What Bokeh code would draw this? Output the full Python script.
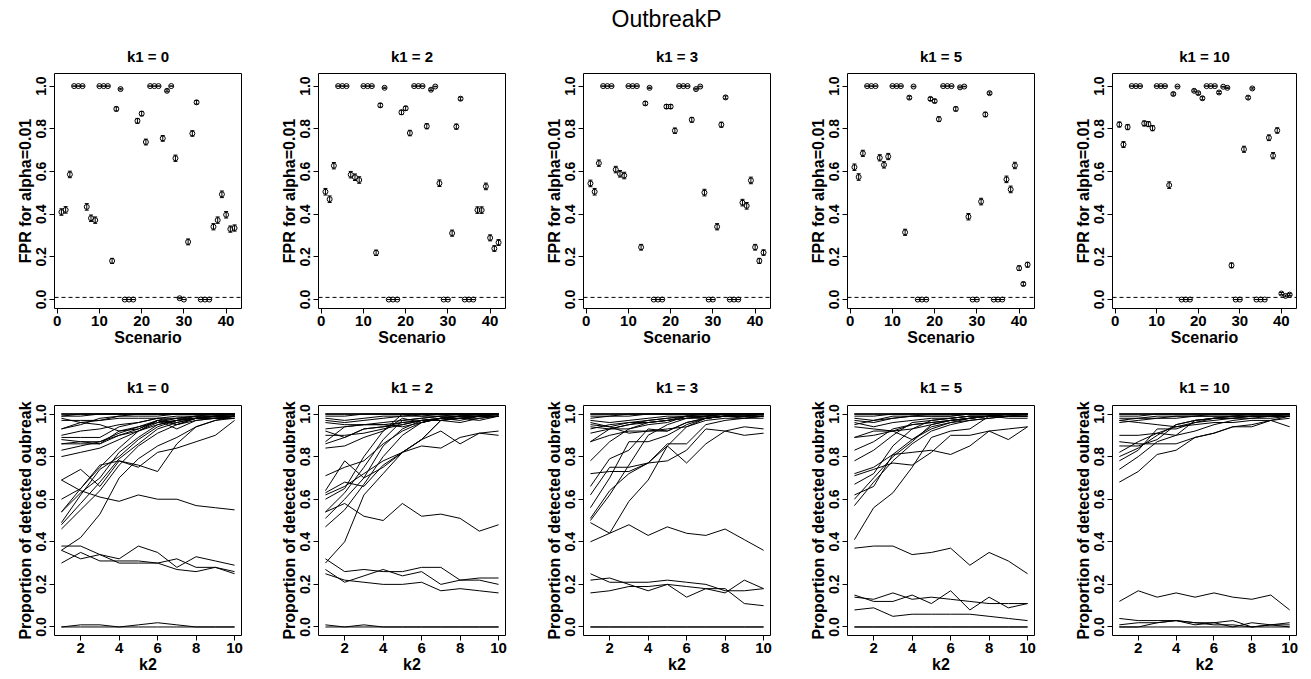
import math
from bokeh.plotting import figure
from bokeh.layouts import column, row
from bokeh.models import (ColumnDataSource, Whisker, TeeHead, Span, FixedTicker,
                          PrintfTickFormatter, Label)
from bokeh.embed import file_html
from bokeh.resources import INLINE

FONT = "Liberation Sans"

# ---------------- data ----------------
k1_values = [0, 2, 3, 5, 10]
scenarios = list(range(1, 43))
k2_values = list(range(1, 11))
alpha = 0.01
n_sim = 4000

fpr_k1_0 = [0.41, 0.42, 0.586, 1, 1, 1, 0.434, 0.381, 0.372, 1, 1, 1, 0.181, 0.893, 0.986,
            0, 0, 0, 0.837, 0.871, 0.738, 1, 1, 1, 0.755, 0.978, 1.0, 0.662, 0.006, 0.0,
            0.27, 0.778, 0.924, 0, 0, 0, 0.341, 0.372, 0.493, 0.397, 0.330, 0.335]
fpr_k1_2 = [0.505, 0.47, 0.627, 1, 1, 1, 0.585, 0.573, 0.56, 1, 1, 1, 0.219, 0.91, 0.992,
            0, 0, 0, 0.877, 0.896, 0.78, 1, 1, 1, 0.812, 0.983, 0.998, 0.545, 0.0, 0.0,
            0.311, 0.81, 0.941, 0, 0, 0, 0.419, 0.419, 0.53, 0.289, 0.239, 0.267]
fpr_k1_3 = [0.544, 0.505, 0.639, 1, 1, 1, 0.609, 0.589, 0.581, 1, 1, 1, 0.245, 0.919, 0.992,
            0, 0, 0, 0.904, 0.904, 0.791, 1, 1, 1, 0.842, 0.986, 0.998, 0.501, 0, 0,
            0.341, 0.819, 0.947, 0, 0, 0, 0.454, 0.439, 0.558, 0.245, 0.181, 0.22]
fpr_k1_5 = [0.62, 0.574, 0.685, 1, 1, 1, 0.664, 0.631, 0.67, 1, 1, 1, 0.315, 0.946, 0.998,
            0, 0, 0, 0.94, 0.93, 0.845, 1, 1, 1, 0.893, 0.994, 0.998, 0.388, 0, 0,
            0.459, 0.867, 0.967, 0, 0, 0, 0.563, 0.516, 0.628, 0.147, 0.073, 0.163]
fpr_k1_10 = [0.82, 0.726, 0.808, 1, 1, 1, 0.825, 0.822, 0.803, 1, 1, 1, 0.536, 0.963, 0.998,
             0, 0, 0, 0.978, 0.967, 0.943, 1, 1, 1, 0.97, 0.997, 0.992, 0.16, 0, 0,
             0.704, 0.946, 0.989, 0, 0, 0, 0.758, 0.674, 0.792, 0.028, 0.017, 0.023]

det_k1_0 = [
    [1, 1, 1, 1, 1, 1, 1, 1, 1, 1],
    [1, 1, 1, 1, 1, 1, 1, 1, 1, 1],
    [1, 1, 1, 1, 1, 1, 1, 1, 1, 1],
    [0.99, 0.99, 1, 1, 1, 1, 1, 1, 1, 1],
    [0.99, 1, 1, 1, 1, 1, 1, 1, 1, 1],
    [0.97, 0.97, 0.97, 0.98, 0.98, 0.98, 0.98, 0.98, 0.98, 0.98],
    [0.98, 0.96, 0.95, 0.92, 0.93, 0.97, 0.95, 0.98, 0.98, 0.99],
    [0.93, 0.95, 0.98, 0.99, 1, 1, 1, 1, 1, 1],
    [0.93, 0.96, 0.97, 0.99, 0.99, 0.99, 1, 1, 1, 1],
    [0.90, 0.92, 0.93, 0.95, 0.96, 0.98, 0.99, 0.99, 1, 1],
    [0.89, 0.89, 0.89, 0.94, 0.96, 0.98, 0.95, 0.98, 0.99, 0.99],
    [0.88, 0.87, 0.87, 0.91, 0.94, 0.97, 0.93, 0.97, 0.98, 0.98],
    [0.86, 0.87, 0.86, 0.90, 0.93, 0.97, 0.96, 0.98, 0.98, 0.99],
    [0.86, 0.86, 0.86, 0.92, 0.94, 0.96, 0.97, 0.98, 0.98, 0.99],
    [0.83, 0.85, 0.87, 0.90, 0.92, 0.97, 0.98, 0.99, 0.99, 0.99],
    [0.80, 0.82, 0.84, 0.88, 0.92, 0.95, 0.97, 0.98, 0.99, 0.99],
    [0.69, 0.74, 0.66, 0.78, 0.76, 0.73, 0.86, 0.94, 0.97, 0.98],
    [0.69, 0.64, 0.61, 0.59, 0.62, 0.60, 0.60, 0.57, 0.56, 0.55],
    [0.60, 0.65, 0.76, 0.78, 0.75, 0.82, 0.84, 0.87, 0.90, 0.97],
    [0.54, 0.65, 0.75, 0.84, 0.92, 0.96, 0.98, 0.99, 0.99, 1.0],
    [0.54, 0.63, 0.70, 0.82, 0.89, 0.95, 0.97, 0.98, 0.99, 0.99],
    [0.49, 0.62, 0.74, 0.80, 0.88, 0.94, 0.97, 0.99, 0.99, 1.0],
    [0.48, 0.58, 0.68, 0.79, 0.86, 0.93, 0.96, 0.98, 0.99, 0.99],
    [0.46, 0.55, 0.64, 0.76, 0.85, 0.91, 0.95, 0.97, 0.98, 0.99],
    [0.36, 0.42, 0.53, 0.70, 0.79, 0.85, 0.89, 0.94, 0.97, 0.99],
    [0.38, 0.38, 0.34, 0.32, 0.38, 0.35, 0.28, 0.33, 0.31, 0.29],
    [0.36, 0.32, 0.34, 0.30, 0.30, 0.30, 0.32, 0.28, 0.28, 0.25],
    [0.30, 0.35, 0.31, 0.31, 0.31, 0.30, 0.27, 0.26, 0.28, 0.26],
    [0, 0.01, 0.01, 0, 0.01, 0.02, 0.01, 0, 0, 0],
    [0, 0, 0, 0, 0, 0, 0, 0, 0, 0],
]
det_k1_2 = [
    [1, 1, 1, 1, 1, 1, 1, 1, 1, 1],
    [1, 1, 1, 1, 1, 1, 1, 1, 1, 1],
    [1, 1, 1, 1, 1, 1, 1, 1, 1, 1],
    [0.99, 0.99, 1, 1, 1, 1, 1, 1, 1, 1],
    [0.98, 0.97, 0.98, 0.99, 0.99, 1, 1, 1, 1, 1],
    [0.97, 0.96, 0.97, 0.98, 0.99, 0.99, 1, 1, 1, 1],
    [0.96, 0.95, 0.95, 0.96, 0.97, 0.98, 0.99, 0.99, 1, 1],
    [0.93, 0.94, 0.95, 0.95, 0.96, 0.97, 0.98, 0.99, 0.99, 1],
    [0.92, 0.89, 0.93, 0.94, 0.95, 0.97, 0.97, 0.98, 0.98, 0.99],
    [0.90, 0.90, 0.91, 0.93, 0.95, 0.97, 0.98, 0.97, 0.99, 0.99],
    [0.87, 0.94, 0.95, 0.95, 0.94, 0.96, 0.98, 0.98, 0.97, 0.99],
    [0.86, 0.89, 0.93, 0.94, 0.96, 0.97, 0.97, 0.96, 0.98, 0.99],
    [0.84, 0.85, 0.89, 0.92, 0.98, 0.96, 0.98, 0.99, 0.99, 1],
    [0.71, 0.75, 0.78, 0.86, 0.92, 0.96, 0.98, 0.98, 0.99, 0.99],
    [0.64, 0.78, 0.70, 0.75, 0.82, 0.88, 0.97, 0.98, 0.99, 0.99],
    [0.63, 0.68, 0.66, 0.76, 0.82, 0.88, 0.92, 0.86, 0.91, 0.90],
    [0.62, 0.66, 0.72, 0.78, 0.82, 0.85, 0.84, 0.89, 0.91, 0.92],
    [0.60, 0.65, 0.80, 0.92, 1.0, 0.99, 0.99, 1, 1, 1],
    [0.54, 0.63, 0.75, 0.88, 0.97, 0.98, 0.99, 0.99, 1, 1],
    [0.51, 0.60, 0.70, 0.85, 0.93, 0.97, 0.98, 0.99, 0.99, 1],
    [0.47, 0.55, 0.67, 0.80, 0.90, 0.96, 0.98, 0.99, 0.99, 1],
    [0.30, 0.40, 0.62, 0.72, 0.82, 0.88, 0.97, 0.98, 0.99, 0.99],
    [0.54, 0.58, 0.52, 0.50, 0.58, 0.52, 0.53, 0.51, 0.45, 0.48],
    [0.32, 0.26, 0.27, 0.26, 0.26, 0.28, 0.28, 0.22, 0.22, 0.20],
    [0.27, 0.21, 0.24, 0.27, 0.24, 0.26, 0.20, 0.22, 0.23, 0.23],
    [0.25, 0.22, 0.21, 0.20, 0.20, 0.21, 0.17, 0.18, 0.17, 0.16],
    [0.01, 0, 0.01, 0, 0, 0, 0, 0, 0, 0],
    [0, 0, 0, 0, 0, 0, 0, 0, 0, 0],
]
det_k1_3 = [
    [1, 1, 1, 1, 1, 1, 1, 1, 1, 1],
    [1, 1, 1, 1, 1, 1, 1, 1, 1, 1],
    [1, 1, 1, 1, 1, 1, 1, 1, 1, 1],
    [0.99, 0.99, 1, 1, 1, 1, 1, 1, 1, 1],
    [0.98, 0.99, 0.99, 1, 1, 1, 1, 1, 1, 1],
    [0.97, 0.96, 0.97, 0.98, 0.99, 0.99, 1, 1, 1, 1],
    [0.96, 0.94, 0.91, 0.92, 0.92, 0.96, 0.98, 0.99, 0.99, 0.99],
    [0.95, 0.94, 0.96, 0.97, 0.98, 0.99, 0.99, 1, 1, 1],
    [0.94, 0.93, 0.95, 0.96, 0.97, 0.98, 0.99, 0.99, 0.99, 1],
    [0.93, 0.95, 0.96, 0.96, 0.97, 0.98, 0.98, 0.99, 0.98, 0.99],
    [0.91, 0.93, 0.93, 0.95, 0.96, 0.99, 0.98, 0.99, 0.99, 0.99],
    [0.87, 0.93, 0.95, 0.97, 0.98, 0.99, 0.99, 1, 1, 1],
    [0.87, 0.90, 0.92, 0.92, 0.93, 0.94, 0.97, 0.98, 0.98, 0.98],
    [0.78, 0.87, 0.93, 0.96, 0.97, 0.99, 0.99, 1, 1, 1],
    [0.72, 0.73, 0.73, 0.77, 0.78, 0.83, 0.93, 0.92, 0.90, 0.91],
    [0.66, 0.79, 0.83, 0.93, 0.92, 0.96, 0.98, 0.99, 0.99, 0.99],
    [0.62, 0.75, 0.75, 0.77, 0.85, 0.77, 0.86, 0.92, 0.94, 0.93],
    [0.56, 0.70, 0.87, 0.87, 0.90, 0.95, 0.98, 0.99, 0.99, 1],
    [0.51, 0.64, 0.72, 0.77, 0.86, 0.86, 0.95, 0.97, 0.98, 0.99],
    [0.50, 0.62, 0.76, 0.90, 0.95, 0.98, 0.99, 0.99, 1, 1],
    [0.49, 0.44, 0.59, 0.69, 0.85, 0.94, 0.98, 0.99, 0.99, 1],
    [0.40, 0.44, 0.48, 0.43, 0.47, 0.44, 0.43, 0.46, 0.41, 0.36],
    [0.25, 0.21, 0.21, 0.21, 0.22, 0.21, 0.20, 0.17, 0.17, 0.18],
    [0.22, 0.23, 0.20, 0.17, 0.20, 0.14, 0.18, 0.16, 0.22, 0.18],
    [0.16, 0.17, 0.19, 0.19, 0.20, 0.19, 0.18, 0.18, 0.11, 0.10],
    [0, 0, 0, 0, 0, 0, 0, 0, 0, 0],
    [0, 0, 0, 0, 0, 0, 0, 0, 0, 0],
]
det_k1_5 = [
    [1, 1, 1, 1, 1, 1, 1, 1, 1, 1],
    [1, 1, 1, 1, 1, 1, 1, 1, 1, 1],
    [1, 1, 1, 1, 1, 1, 1, 1, 1, 1],
    [0.99, 0.99, 1, 1, 1, 1, 1, 1, 1, 1],
    [0.98, 0.97, 0.99, 0.99, 1, 1, 1, 1, 1, 1],
    [0.97, 0.96, 0.98, 0.99, 0.99, 0.99, 1, 1, 1, 1],
    [0.96, 0.94, 0.96, 0.97, 0.98, 0.98, 0.99, 0.99, 1, 1],
    [0.95, 0.97, 0.98, 0.99, 0.99, 0.99, 1, 1, 1, 1],
    [0.94, 0.93, 0.92, 0.95, 0.96, 0.97, 0.98, 0.99, 0.98, 0.98],
    [0.89, 0.90, 0.92, 0.88, 0.94, 0.96, 0.97, 0.98, 0.99, 0.99],
    [0.89, 0.92, 0.92, 0.93, 0.95, 0.97, 0.98, 0.99, 0.99, 0.99],
    [0.83, 0.87, 0.93, 0.95, 0.96, 0.97, 0.98, 0.99, 1, 1],
    [0.78, 0.83, 0.90, 0.96, 0.97, 0.98, 0.99, 0.99, 1, 1],
    [0.72, 0.75, 0.81, 0.82, 0.83, 0.81, 0.85, 0.92, 0.88, 0.94],
    [0.71, 0.74, 0.77, 0.76, 0.82, 0.90, 0.90, 0.92, 0.93, 0.94],
    [0.67, 0.72, 0.85, 0.93, 0.97, 0.98, 0.99, 0.99, 1, 1],
    [0.62, 0.66, 0.81, 0.88, 0.93, 0.96, 0.98, 0.99, 0.99, 1],
    [0.60, 0.70, 0.80, 0.87, 0.95, 0.97, 0.98, 0.99, 1, 1],
    [0.57, 0.68, 0.78, 0.86, 0.92, 0.95, 0.97, 0.98, 0.99, 0.99],
    [0.41, 0.56, 0.63, 0.75, 0.89, 0.92, 0.93, 0.99, 0.99, 0.99],
    [0.37, 0.38, 0.38, 0.34, 0.35, 0.37, 0.29, 0.35, 0.31, 0.25],
    [0.15, 0.12, 0.12, 0.15, 0.11, 0.17, 0.08, 0.14, 0.09, 0.11],
    [0.14, 0.13, 0.16, 0.13, 0.14, 0.13, 0.12, 0.11, 0.11, 0.11],
    [0.08, 0.09, 0.05, 0.06, 0.06, 0.06, 0.06, 0.05, 0.04, 0.03],
    [0, 0, 0, 0, 0, 0, 0, 0, 0, 0],
    [0, 0, 0, 0, 0, 0, 0, 0, 0, 0],
]
det_k1_10 = [
    [1, 1, 1, 1, 1, 1, 1, 1, 1, 1],
    [1, 1, 1, 1, 1, 1, 1, 1, 1, 1],
    [1, 1, 1, 1, 1, 1, 1, 1, 1, 1],
    [0.99, 0.99, 1, 1, 1, 1, 1, 1, 1, 1],
    [0.98, 0.98, 0.99, 0.99, 0.99, 1, 1, 1, 1, 1],
    [0.97, 0.98, 0.98, 0.99, 0.99, 0.99, 0.99, 0.99, 0.99, 0.99],
    [0.97, 0.96, 0.95, 0.94, 0.95, 0.96, 0.96, 0.97, 0.97, 0.94],
    [0.96, 0.97, 0.98, 0.98, 0.99, 0.99, 0.99, 1, 1, 1],
    [0.90, 0.90, 0.91, 0.90, 0.92, 0.95, 0.97, 0.98, 0.98, 0.99],
    [0.87, 0.86, 0.86, 0.86, 0.89, 0.91, 0.94, 0.94, 0.97, 0.98],
    [0.85, 0.85, 0.88, 0.95, 0.97, 0.98, 0.98, 0.99, 0.99, 0.99],
    [0.82, 0.87, 0.91, 0.94, 0.96, 0.97, 0.98, 0.98, 0.99, 0.99],
    [0.80, 0.84, 0.90, 0.95, 0.97, 0.98, 0.99, 0.99, 0.99, 1],
    [0.78, 0.83, 0.93, 0.93, 0.96, 0.98, 0.98, 0.99, 0.99, 0.99],
    [0.74, 0.80, 0.87, 0.90, 0.97, 0.98, 0.99, 0.99, 0.99, 1],
    [0.68, 0.73, 0.81, 0.83, 0.89, 0.91, 0.94, 0.95, 0.97, 0.99],
    [0.12, 0.17, 0.14, 0.16, 0.14, 0.16, 0.14, 0.13, 0.15, 0.08],
    [0.04, 0.03, 0.03, 0.03, 0.02, 0.02, 0.03, 0.00, 0.01, 0.00],
    [0.01, 0.02, 0.02, 0.03, 0.01, 0.02, 0.00, 0.02, 0.01, 0.02],
    [0.00, 0.00, 0.02, 0.03, 0.02, 0.01, 0.01, 0.00, 0.01, 0.01],
    [0, 0, 0, 0, 0, 0, 0, 0, 0, 0],
]

fpr_all = [fpr_k1_0, fpr_k1_2, fpr_k1_3, fpr_k1_5, fpr_k1_10]
det_all = [det_k1_0, det_k1_2, det_k1_3, det_k1_5, det_k1_10]

x_ticks_top = [0, 10, 20, 30, 40]
x_ticks_bottom = [2, 4, 6, 8, 10]
y_ticks = [0.0, 0.2, 0.4, 0.6, 0.8, 1.0]

# ---------------- layout ----------------
fig_widths = [268, 265, 264, 265, 245]
left_borders = [54, 50, 50, 50, 50]
frame_widths = [187, 187, 187, 187, 184]


def style(p, xticks, xlabel, ylabel, standoff):
    p.xgrid.visible = False
    p.ygrid.visible = False
    p.outline_line_color = "black"
    p.outline_line_width = 1
    p.background_fill_color = "white"
    p.border_fill_color = "white"
    p.title.align = "center"
    p.title.text_font = FONT
    p.title.text_font_size = "15px"
    p.title.text_font_style = "bold"
    p.title.text_color = "black"
    p.title.standoff = standoff
    for ax in (p.xaxis[0], p.yaxis[0]):
        ax.axis_line_color = None
        ax.major_tick_out = 5
        ax.major_tick_in = 0
        ax.major_tick_line_color = "black"
        ax.minor_tick_line_color = None
        ax.major_label_text_font = FONT
        ax.major_label_text_font_size = "14px"
        ax.major_label_text_font_style = "bold"
        ax.major_label_text_color = "black"
        ax.major_label_standoff = 3
        ax.axis_label_text_font = FONT
        ax.axis_label_text_font_size = "16px"
        ax.axis_label_text_font_style = "bold"
        ax.axis_label_text_color = "black"
        ax.axis_label_standoff = 0
    p.xaxis.major_label_text_font_size = "15px"
    p.xaxis.major_label_standoff = 2
    p.xaxis.ticker = FixedTicker(ticks=xticks)
    p.yaxis.ticker = FixedTicker(ticks=y_ticks)
    p.yaxis.formatter = PrintfTickFormatter(format="%.1f")
    p.xaxis.formatter = PrintfTickFormatter(format="%d")
    p.yaxis.major_label_orientation = "vertical"
    p.xaxis.axis_label = xlabel
    p.yaxis.axis_label = ylabel


top_row = []
bottom_row = []
for i, k1 in enumerate(k1_values):
    w = fig_widths[i]
    lb = left_borders[i]
    rb = w - lb - frame_widths[i]

    # ---- top: FPR with confidence intervals ----
    vals = fpr_all[i]
    half = [1.96 * math.sqrt(v * (1 - v) / n_sim) for v in vals]
    src = ColumnDataSource(dict(x=scenarios, y=vals,
                                lo=[v - h for v, h in zip(vals, half)],
                                hi=[v + h for v, h in zip(vals, half)]))
    p = figure(width=w, height=319, x_range=(-0.64, 43.64), y_range=(-0.042, 1.059),
               output_backend="svg", toolbar_location=None, title=f"k1 = {k1}",
               min_border_left=lb, min_border_right=rb, min_border_top=43, min_border_bottom=41)
    style(p, x_ticks_top, "Scenario", "FPR for alpha=0.01", 17)
    p.add_layout(Span(location=alpha, dimension="width", line_color="black",
                      line_width=1, line_dash="4 3"))
    p.add_layout(Whisker(source=src, base="x", upper="hi", lower="lo", dimension="height",
                         line_color="black", line_width=1,
                         upper_head=TeeHead(size=4, line_color="black", line_width=1),
                         lower_head=TeeHead(size=4, line_color="black", line_width=1)))
    p.scatter("x", "y", source=src, marker="circle", size=5, fill_color=None,
              line_color="black", line_width=1)
    top_row.append(p)

    # ---- bottom: detection proportion vs k2 ----
    lines = det_all[i]
    q = figure(width=w, height=327, x_range=(0.64, 10.36), y_range=(-0.04, 1.04),
               output_backend="svg", toolbar_location=None, title=f"k1 = {k1}",
               min_border_left=lb, min_border_right=rb, min_border_top=56, min_border_bottom=41)
    style(q, x_ticks_bottom, "k2", "Proportion of detected oubreak", 20)
    q.multi_line(xs=[k2_values] * len(lines), ys=lines, line_color="black", line_width=1)
    bottom_row.append(q)

# ---- main title ----
t = figure(width=1307, height=30, x_range=(0, 1307), y_range=(0, 30), x_axis_type=None,
           y_axis_type=None, toolbar_location=None, output_backend="svg", title=None,
           min_border=0, outline_line_color=None)
t.add_layout(Label(x=666, y=12, text="OutbreakP", text_align="center", text_baseline="middle",
                   text_font=FONT, text_font_size="23px", text_color="black"))

layout = column(t, row(*top_row, spacing=0), row(*bottom_row, spacing=0), spacing=0)

with open("out.html", "w") as f:
    f.write(file_html(layout, INLINE))
